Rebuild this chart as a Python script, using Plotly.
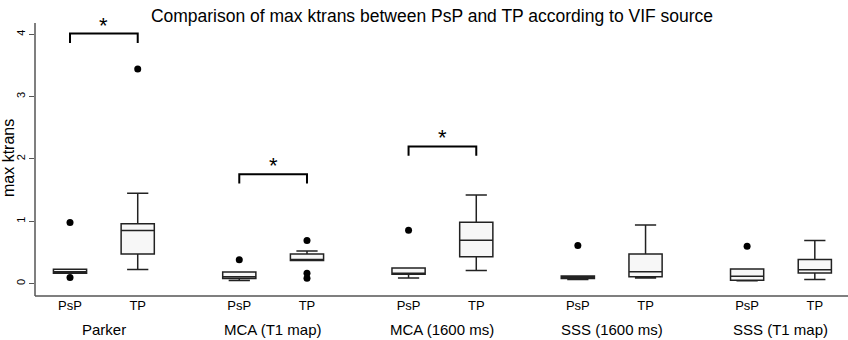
import plotly.graph_objects as go

groups = ["Parker", "MCA (T1 map)", "MCA (1600 ms)", "SSS (1600 ms)", "SSS (T1 map)"]
conditions = ["PsP", "TP"]

# box statistics, order: group0 PsP, group0 TP, group1 PsP, ...
lower_fence = [0.165, 0.225, 0.05, 0.37, 0.09, 0.21, 0.065, 0.09, 0.045, 0.065]
q1 =          [0.165, 0.475, 0.08, 0.37, 0.15, 0.43, 0.08, 0.11, 0.053, 0.17]
median =      [0.19, 0.85, 0.11, 0.385, 0.165, 0.695, 0.09, 0.19, 0.117, 0.22]
q3 =          [0.23, 0.96, 0.185, 0.475, 0.25, 0.985, 0.122, 0.475, 0.235, 0.385]
upper_fence = [0.23, 1.45, 0.185, 0.52, 0.25, 1.42, 0.122, 0.94, 0.235, 0.69]

# outliers: box index, value
outlier_box = [0, 0, 1, 2, 3, 3, 3, 4, 6, 8]
outlier_val = [0.98, 0.096, 3.44, 0.38, 0.69, 0.165, 0.085, 0.855, 0.61, 0.60]

# significance brackets
bracket_group = [0, 1, 2]
bracket_top = [4.01, 1.755, 2.2]
bracket_leg = 0.15
star_y = [4.14, 1.9, 2.34]

group_gap = 2.5

def xpos(i):
    return (i // 2) * group_gap + (i % 2)

xs = [xpos(i) for i in range(len(median))]

fig = go.Figure()
fig.add_trace(go.Box(
    x=xs, q1=q1, median=median, q3=q3,
    lowerfence=lower_fence, upperfence=upper_fence,
    width=0.49, whiskerwidth=0.64,
    fillcolor="#f7f7f7", line=dict(color="#222222", width=1.5),
    boxpoints=False, showlegend=False, hoverinfo="skip",
))
fig.add_trace(go.Scatter(
    x=[xpos(b) for b in outlier_box], y=outlier_val, mode="markers",
    marker=dict(color="black", size=7), showlegend=False, hoverinfo="skip",
))

for g, top, sy in zip(bracket_group, bracket_top, star_y):
    x0 = g * group_gap
    x1 = x0 + 1
    fig.add_trace(go.Scatter(
        x=[x0, x0, x1, x1], y=[top - bracket_leg, top, top, top - bracket_leg],
        mode="lines", line=dict(color="black", width=2),
        showlegend=False, hoverinfo="skip", cliponaxis=False,
    ))
    fig.add_annotation(x=(x0 + x1) / 2, y=sy, text="*", showarrow=False,
                       font=dict(size=22, color="black"), yanchor="middle")

tickvals = xs
ticktext = [conditions[i % 2] for i in range(len(xs))]

for g, name in enumerate(groups):
    fig.add_annotation(x=g * group_gap + 0.5, y=-0.121, yref="paper", text=name,
                       showarrow=False, font=dict(size=15, color="black"),
                       yanchor="middle")

fig.add_annotation(x=-35 / 813, y=(296 - 158) / 273, xref="paper", yref="paper",
                   text="max ktrans", textangle=-90, showarrow=False,
                   font=dict(size=16, color="black"), xanchor="center", yanchor="middle",
                   xshift=8)

# frame lines (left and bottom axis lines)
fig.add_shape(type="line", xref="paper", yref="paper", x0=0, x1=0, y0=0, y1=1,
              line=dict(color="#555555", width=1.5), layer="above")
fig.add_shape(type="line", xref="paper", yref="paper", x0=0, x1=1, y0=0, y1=0,
              line=dict(color="#555555", width=1.5), layer="above")

fig.update_layout(
    width=848, height=340,
    margin=dict(l=35, r=0, t=23, b=44),
    paper_bgcolor="white", plot_bgcolor="white",
    font=dict(family="Liberation Sans, Arial, sans-serif", color="black"),
    title=dict(text="Comparison of max ktrans between PsP and TP according to VIF source",
               x=432 / 848, xanchor="center", xref="container",
               y=1 - 16 / 340, yanchor="middle", font=dict(size=17.5, color="black")),
    xaxis=dict(range=[-0.517, 11.49], tickvals=tickvals, ticktext=ticktext,
               showline=False, ticks="",
               showgrid=False, zeroline=False, tickfont=dict(size=13, color="black")),
    yaxis=dict(range=[-0.2, 4.18], tickvals=[0, 1, 2, 3, 4],
               showline=False,
               ticks="outside", ticklen=5, tickcolor="#555555", tickwidth=1,
               tickangle=-90, showgrid=False, zeroline=False,
               tickfont=dict(size=11, color="black")),
)

fig.write_html("out.html", config={"displayModeBar": False},
               post_script="document.body.style.margin='0';")
